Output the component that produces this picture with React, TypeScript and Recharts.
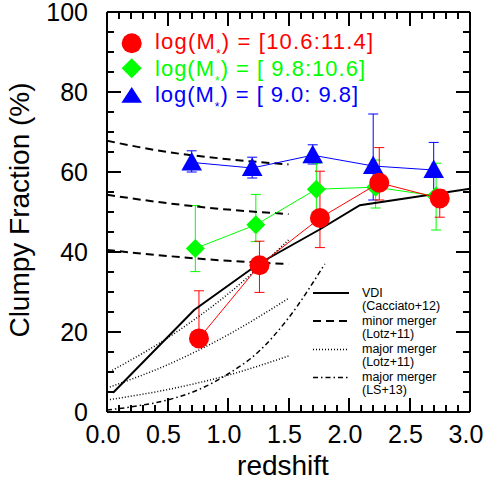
import React from "react";
import { ComposedChart, XAxis, YAxis, Scatter, Line, ErrorBar } from "recharts";

const FONT = "'Liberation Sans', Arial, Helvetica, sans-serif";

// observed clumpy fractions, by stellar-mass bin
const redZ = [0.76, 1.26, 1.76, 2.25, 2.75];
const redF = [18.4, 36.7, 48.5, 57.3, 53.4];
const redHi = [30.3, 42.7, 60.2, 66.1, 55.5];
const redLo = [17.0, 29.9, 41.1, 53.0, 48.7];

const greenZ = [0.73, 1.23, 1.73, 2.22, 2.72];
const greenF = [40.9, 46.8, 55.7, 56.2, 54.0];
const greenHi = [51.6, 54.4, 62.2, 63.0, 62.2];
const greenLo = [35.1, 42.6, 50.0, 51.0, 45.5];

const blueZ = [0.7, 1.2, 1.7, 2.2, 2.7];
const blueF = [62.4, 61.0, 64.2, 61.5, 60.5];
const blueHi = [65.3, 63.7, 66.8, 74.5, 67.4];
const blueLo = [60.0, 58.5, 62.0, 53.0, 53.8];

// model curves
const vdiZ = [0.05, 0.72, 1.25, 1.75, 2.09, 3.0];
const vdiF = [4.8, 25.5, 37.0, 45.5, 51.7, 55.8];

const minorZ = [0, 0.5, 1.0, 1.5];
const minorHigh = [67.8, 65.0, 63.2, 61.9];
const minorMid = [54.3, 52.2, 50.6, 49.5];
const minorLow = [40.5, 39.0, 37.8, 37.0];

const majorZ = [0, 0.5, 1.0, 1.5];
const majorHigh = [9.7, 18.5, 29.5, 43.0];
const majorMid = [6.0, 11.8, 19.3, 28.4];
const majorLow = [3.0, 5.6, 9.2, 14.0];

const lsZ = [0, 0.25, 0.5, 0.75, 1.0, 1.25, 1.5, 1.8];
const lsF = [0.5, 1.5, 3.0, 5.5, 9.5, 15.0, 23.5, 37.0];

const xTicks = Array.from({ length: 31 }, (_, i) => i / 10);
const yTicks = Array.from({ length: 21 }, (_, i) => i * 5);

// plot box, matching the chart margins below (used for the inward frame ticks)
const BOX_L = 107;
const BOX_R = 470;
const BOX_T = 12;
const BOX_B = 412;
const frameX = (v: number) => Math.round(BOX_L + (v / 3) * (BOX_R - BOX_L));
const frameY = (v: number) => Math.round(BOX_B - (v / 100) * (BOX_B - BOX_T));

const pts = (z: number[], f: number[], hi?: number[], lo?: number[]) =>
  z.map((x, i) => ({
    x,
    y: f[i],
    err: hi && lo ? [f[i] - lo[i], hi[i] - f[i]] : undefined,
  }));

const isMajorX = (v: number) => Math.abs(v * 2 - Math.round(v * 2)) < 1e-6;
const isMajorY = (v: number) => Math.abs(v / 20 - Math.round(v / 20)) < 1e-6;

function BottomLabel(props: any) {
  const { x, y, payload } = props;
  if (!isMajorX(payload.value)) return <g />;
  return (
    <text x={x - 4} y={y + 31} textAnchor="middle" fontSize={25} fontFamily={FONT} fill="#000">
      {payload.value.toFixed(1)}
    </text>
  );
}

function LeftLabel(props: any) {
  const { x, y, payload } = props;
  if (!isMajorY(payload.value)) return <g />;
  return (
    <text x={x - 19} y={y + 9} textAnchor="end" fontSize={25} fontFamily={FONT} fill="#000">
      {payload.value}
    </text>
  );
}

const RedDot = (p: any) => <circle cx={p.cx} cy={p.cy} r={10} fill="#ff0000" />;
const GreenDiamond = (p: any) => (
  <polygon
    points={`${p.cx},${p.cy - 9.5} ${p.cx + 9.5},${p.cy} ${p.cx},${p.cy + 9.5} ${p.cx - 9.5},${p.cy}`}
    fill="#00ff00"
  />
);
const BlueTriangle = (p: any) => (
  <polygon
    points={`${p.cx},${p.cy - 10.5} ${p.cx + 10.3},${p.cy + 8} ${p.cx - 10.3},${p.cy + 8}`}
    fill="#0000ff"
  />
);

const axisLine = { stroke: "#000", strokeWidth: 2 };

function MassLabel({ y, color, range, len }: { y: number; color: string; range: string; len: number }) {
  return (
    <text x={155} y={y} fontSize={22} fontFamily={FONT} fill={color} textLength={len} lengthAdjust="spacing">
      log(M
      <tspan fontSize={12} dy={9}>
        *
      </tspan>
      <tspan dy={-9}>{`) = [${range}]`}</tspan>
    </text>
  );
}

const legendRows = [
  { y: 293, dash: undefined, width: 2, l1: "VDI", l2: "(Cacciato+12)" },
  { y: 321, dash: "8 5", width: 2, l1: "minor merger", l2: "(Lotz+11)" },
  { y: 349.5, dash: "1 2", width: 1.5, l1: "major merger", l2: "(Lotz+11)" },
  { y: 377.5, dash: "5 3 1.5 3", width: 1.5, l1: "major merger", l2: "(LS+13)" },
];

function FrameTicks() {
  const xs = Array.from({ length: 31 }, (_, i) => i / 10);
  const ys = Array.from({ length: 21 }, (_, i) => i * 5);
  return (
    <svg width={486} height={480} style={{ position: "absolute", left: 0, top: 0, zIndex: 10, pointerEvents: "none" }}>
      {xs.map((v, i) => {
        const len = isMajorX(v) ? 14 : 7;
        const x = frameX(v);
        return (
          <g key={`x${i}`}>
            <line x1={x} x2={x} y1={BOX_B} y2={BOX_B - len} stroke="#000" strokeWidth={2} />
            <line x1={x} x2={x} y1={BOX_T} y2={BOX_T + len} stroke="#000" strokeWidth={2} />
          </g>
        );
      })}
      {ys.map((v, i) => {
        const len = isMajorY(v) ? 14 : 7;
        const y = frameY(v);
        return (
          <g key={`y${i}`}>
            <line x1={BOX_L} x2={BOX_L + len} y1={y} y2={y} stroke="#000" strokeWidth={2} />
            <line x1={BOX_R} x2={BOX_R - len} y1={y} y2={y} stroke="#000" strokeWidth={2} />
          </g>
        );
      })}
    </svg>
  );
}

export default function App() {
  return (
    <div style={{ position: "absolute", left: 0, top: 0, width: 486, height: 480, background: "#fff" }}>
      <ComposedChart width={486} height={480} margin={{ top: 11, right: 15, bottom: 38, left: 57 }}>
        <XAxis
          xAxisId="b"
          dataKey="x"
          type="number"
          domain={[0, 3]}
          allowDataOverflow
          ticks={xTicks}
          interval={0}
          tick={<BottomLabel />}
          tickSize={0}
          tickMargin={0}
          tickLine={false}
          axisLine={axisLine}
          height={30}
          orientation="bottom"
        />
        <XAxis
          xAxisId="t"
          dataKey="x"
          type="number"
          domain={[0, 3]}
          allowDataOverflow
          tick={false}
          tickLine={false}
          axisLine={axisLine}
          height={1}
          orientation="top"
        />
        <YAxis
          yAxisId="l"
          dataKey="y"
          type="number"
          domain={[0, 100]}
          allowDataOverflow
          ticks={yTicks}
          interval={0}
          tick={<LeftLabel />}
          tickSize={0}
          tickMargin={0}
          tickLine={false}
          axisLine={axisLine}
          width={50}
          orientation="left"
        />
        <YAxis
          yAxisId="r"
          dataKey="y"
          type="number"
          domain={[0, 100]}
          allowDataOverflow
          tick={false}
          tickLine={false}
          axisLine={axisLine}
          width={1}
          orientation="right"
        />

        <Scatter xAxisId="b" yAxisId="l" data={pts(blueZ, blueF, blueHi, blueLo)} shape={<BlueTriangle />}
          line={{ stroke: "#0000ff", strokeWidth: 1 }} lineType="joint" isAnimationActive={false}>
          <ErrorBar dataKey="err" direction="y" width={5} stroke="#0000ff" strokeWidth={1} isAnimationActive={false} />
        </Scatter>
        <Scatter xAxisId="b" yAxisId="l" data={pts(greenZ, greenF, greenHi, greenLo)} shape={<GreenDiamond />}
          line={{ stroke: "#00ff00", strokeWidth: 1 }} lineType="joint" isAnimationActive={false}>
          <ErrorBar dataKey="err" direction="y" width={5} stroke="#00ff00" strokeWidth={1} isAnimationActive={false} />
        </Scatter>
        <Scatter xAxisId="b" yAxisId="l" data={pts(redZ, redF, redHi, redLo)} shape={<RedDot />}
          line={{ stroke: "#ff0000", strokeWidth: 1 }} lineType="joint" isAnimationActive={false}>
          <ErrorBar dataKey="err" direction="y" width={5} stroke="#ff0000" strokeWidth={1} isAnimationActive={false} />
        </Scatter>

        <Line xAxisId="b" yAxisId="l" data={pts(vdiZ, vdiF)} dataKey="y" type="linear" stroke="#000"
          strokeWidth={2} dot={false} activeDot={false} isAnimationActive={false} />
        {[minorHigh, minorMid, minorLow].map((f, i) => (
          <Line key={`mn${i}`} xAxisId="b" yAxisId="l" data={pts(minorZ, f)} dataKey="y" type="monotone"
            stroke="#000" strokeWidth={2} strokeDasharray="8 5" dot={false} activeDot={false} isAnimationActive={false} />
        ))}
        {[majorHigh, majorMid, majorLow].map((f, i) => (
          <Line key={`mj${i}`} xAxisId="b" yAxisId="l" data={pts(majorZ, f)} dataKey="y" type="monotone"
            stroke="#000" strokeWidth={1.5} strokeDasharray="1 2" dot={false} activeDot={false} isAnimationActive={false} />
        ))}
        <Line xAxisId="b" yAxisId="l" data={pts(lsZ, lsF)} dataKey="y" type="monotone" stroke="#000"
          strokeWidth={1.5} strokeDasharray="5 3 1.5 3" dot={false} activeDot={false} isAnimationActive={false} />
      </ComposedChart>

      <svg width={486} height={480} style={{ position: "absolute", left: 0, top: 0, zIndex: 5, pointerEvents: "none" }}>
        <text x={29} y={210} transform="rotate(-90 29 210)" textAnchor="middle" fontSize={28} fontFamily={FONT} fill="#000">
          Clumpy Fraction (%)
        </text>
        <text x={283} y={474.5} textAnchor="middle" fontSize={28} fontFamily={FONT} fill="#000">
          redshift
        </text>

        <circle cx={131.7} cy={43.3} r={10} fill="#ff0000" />
        <polygon points="131.7,58.3 141.7,68.3 131.7,78.3 121.7,68.3" fill="#00ff00" />
        <polygon points="131.7,87 142,102.7 121.4,102.7" fill="#0000ff" />
        <MassLabel y={49.3} color="#ff0000" range="10.6:11.4" len={218} />
        <MassLabel y={76} color="#00ff00" range=" 9.8:10.6" len={210} />
        <MassLabel y={101.7} color="#0000ff" range=" 9.0: 9.8" len={203} />

        {legendRows.map((r) => (
          <g key={r.y}>
            <line x1={313} x2={349} y1={r.y} y2={r.y} stroke="#000" strokeWidth={r.width} strokeDasharray={r.dash} />
            <text x={362} y={r.y + 3.5} fontSize={12.5} fontFamily={FONT} fill="#000">
              {r.l1}
            </text>
            <text x={362} y={r.y + 16.5} fontSize={12.5} fontFamily={FONT} fill="#000">
              {r.l2}
            </text>
          </g>
        ))}
      </svg>
      <FrameTicks />
    </div>
  );
}
